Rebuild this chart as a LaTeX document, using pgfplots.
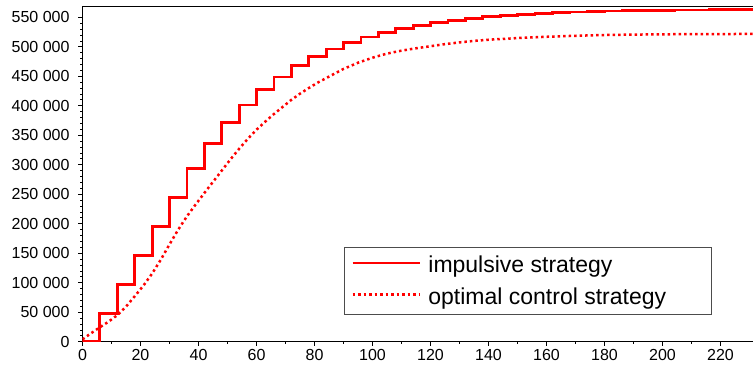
\documentclass[border=0pt]{standalone}
\usepackage{pgfplots}
\usepackage{pgfplotstable}
\pgfplotsset{compat=1.18}
\usepackage{fontspec}
\setmainfont{Liberation Sans}

\pgfplotstableread{
x y
0 0
6 48300
12 97500
18 146500
24 195300
30 245000
36 294300
42 335500
48 371200
54 401200
60 427300
66 448800
72 468000
78 483700
84 496300
90 507400
96 516700
102 524600
108 531000
114 536500
120 541000
126 544800
132 548000
138 550800
144 553100
150 555000
156 556600
162 557900
168 559000
174 559900
180 560600
186 561200
192 561600
198 562000
204 562300
210 562500
216 562700
222 562800
228 562900
231.2 562900
}\impulsive

\pgfplotstableread{
x y
0 4000
3 14500
6 24500
9 34000
12 45000
15 59500
18 77000
21 95000
24 115500
27 139000
30 165000
33 190000
36 212500
39 232500
42 252000
45 271000
48 290000
51 309000
54 327000
57 344000
60 359500
63 373000
66 386000
69 398000
72 410000
75 420500
78 430000
81 439000
85 449500
90 462500
95 473000
100 481500
105 488500
110 493500
115 497500
120 501000
125 504500
130 507500
135 510000
140 512000
150 514800
160 517000
170 518700
180 520000
195 521000
210 521500
231.2 521800
}\optimal

\begin{document}
\begin{tikzpicture}
\begin{axis}[
  name=ax,
  scale only axis,
  width=670.5bp, height=335bp,
  xmin=0, xmax=231.2, ymin=0, ymax=568000,
  xtick={0,20,...,220},
  ytick={0,50000,...,550000},
  minor x tick num=1,
  minor y tick num=4,
  tick align=outside,
  tick pos=left,
  major tick length=4bp,
  minor tick length=2bp,
  scaled y ticks=false,
  /pgf/number format/.cd, fixed, 1000 sep={\ }, assume math mode=true,
  /pgfplots/.cd,
  ticklabel style={font=\fontsize{16bp}{19bp}\selectfont},
  yticklabel style={xshift=-5.5bp},
  axis line style={line width=0.8bp},
  every tick/.style={black, line width=0.8bp},
  legend cell align=left,
  legend style={at={(0.39,0.2836)}, anchor=north west, draw=black!70,
    line width=0.8bp, inner xsep=7bp, inner ysep=6.5bp, row sep=9bp,
    font=\fontsize{23bp}{27.5bp}\selectfont,
    nodes={inner ysep=2.3bp, inner xsep=7.5bp}},
]
\addplot[const plot, red, line width=2.8bp,
  legend image code/.code={\draw[red, line width=2.5bp] (0bp,2bp) -- (67bp,2bp);}]
  table {\impulsive};
\addlegendentry{\makebox[268bp][l]{impulsive strategy}}
\addplot[red, line width=2.5bp, dash pattern=on 2.5bp off 3bp,
  legend image code/.code={\draw[red, line width=2.5bp, dash pattern=on 2.5bp off 3bp] (0bp,2bp) -- (67bp,2bp);}]
  table {\optimal};
\addlegendentry{\makebox[268bp][l]{optimal control strategy}}
\end{axis}
\pgfresetboundingbox
\path ([xshift=-82.5bp,yshift=-24.3bp]ax.south west) rectangle ([yshift=6.7bp]ax.north east);
\end{tikzpicture}
\end{document}
